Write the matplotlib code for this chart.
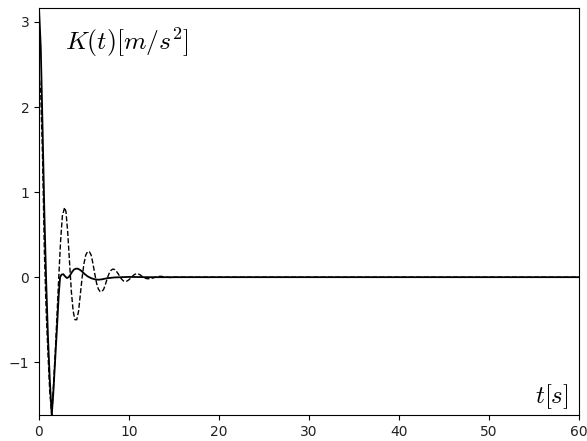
import matplotlib
matplotlib.use("Agg")
import matplotlib.pyplot as plt

plt.rcParams['mathtext.fontset'] = 'cm'

t_solid = [0.0, 0.2, 0.4, 0.6, 0.8, 1.0, 1.2, 1.42, 1.6, 1.8, 2.0, 2.2, 2.35, 2.5, 2.7,
           2.9, 3.1, 3.3, 3.5, 3.7, 3.9, 4.1, 4.3, 4.5, 4.7, 4.9, 5.1, 5.4, 5.8, 6.2,
           6.6, 7.0, 7.6, 8.4, 10.0, 12.0, 20.0, 30.0, 40.0, 50.0, 60.0]
k_solid = [3.17, 2.7, 1.75, 0.75, -0.05, -0.7, -1.2, -1.62, -1.35, -0.97, -0.6, -0.2,
           0.0, 0.03, 0.035, 0.01, -0.01, 0.0, 0.03, 0.065, 0.09, 0.1, 0.1, 0.09, 0.075,
           0.055, 0.035, 0.01, -0.012, -0.025, -0.03, -0.025, -0.012, -0.003, 0.003,
           0.0, 0.0, 0.0, 0.0, 0.0, 0.0]

t_dashed = [0.0, 0.2, 0.4, 0.6, 0.8, 1.0, 1.2, 1.42, 1.6, 1.8, 2.0, 2.2, 2.4, 2.6, 2.85,
            3.0, 3.2, 3.4, 3.6, 3.8, 4.0, 4.2, 4.4, 4.6, 4.8, 5.0, 5.2, 5.4, 5.6, 5.8,
            6.0, 6.2, 6.4, 6.6, 6.8, 7.0, 7.2, 7.4, 7.6, 7.8, 8.0, 8.2, 8.4, 8.6, 8.8,
            9.0, 9.2, 9.4, 9.6, 9.8, 10.0, 10.2, 10.4, 10.6, 10.8, 11.0, 11.2, 11.4,
            11.6, 11.8, 12.0, 12.4, 12.8, 13.2, 13.6, 14.0, 14.6, 15.0, 20.0, 30.0,
            40.0, 50.0, 60.0]
k_dashed = [2.40, 2.15, 1.4, 0.3, -0.4, -0.9, -1.35, -1.62, -1.3, -0.9, -0.45, 0.0,
            0.42, 0.72, 0.82, 0.77, 0.52, 0.17, -0.17, -0.4, -0.5, -0.5, -0.4, -0.2, 0.0,
            0.16, 0.26, 0.30, 0.30, 0.26, 0.16, 0.04, -0.07, -0.14, -0.17, -0.17, -0.14,
            -0.08, -0.01, 0.045, 0.08, 0.095, 0.09, 0.07, 0.04, 0.005, -0.025, -0.045,
            -0.05, -0.045, -0.03, -0.01, 0.012, 0.03, 0.04, 0.04, 0.03, 0.015, 0.0,
            -0.01, -0.018, -0.018, -0.005, 0.008, 0.01, 0.002, -0.004, 0.0, 0.0, 0.0,
            0.0, 0.0, 0.0]

x_ticks = [0, 10, 20, 30, 40, 50, 60]
y_ticks = [-1, 0, 1, 2, 3]

fig = plt.figure(figsize=(5.87, 4.41), dpi=100)
ax = fig.add_axes([0.0664, 0.059, 0.9196, 0.923])
ax.plot(t_solid, k_solid, color='black', linewidth=1.3, linestyle='-')
ax.plot(t_dashed, k_dashed, color='black', linewidth=1.0, linestyle='--')
ax.set_xlim(0, 60)
ax.set_ylim(-1.62, 3.165)
ax.set_xticks(x_ticks)
ax.set_yticks(y_ticks)
ax.set_yticklabels(['\u22121', '0', '1', '2', '3'])
ax.tick_params(labelsize=10, labelcolor='#222222')
ax.text(0.048, 0.897, r'$K(t)[m/s^2]$', transform=ax.transAxes, fontsize=18.5,
        ha='left', va='baseline')
ax.text(0.981, 0.03, r'$t[s]$', transform=ax.transAxes, fontsize=18,
        ha='right', va='baseline')
fig.savefig('out.png', dpi=100)
